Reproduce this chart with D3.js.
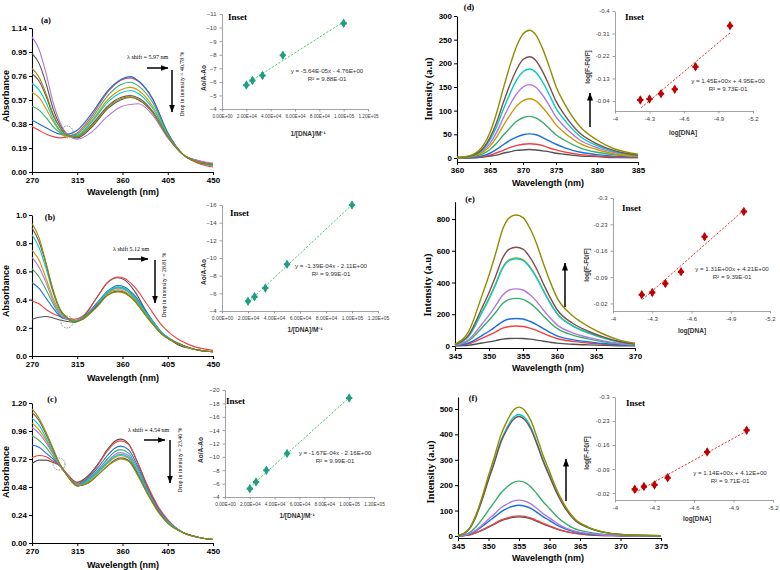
<!DOCTYPE html>
<html><head><meta charset="utf-8">
<script src="https://cdn.jsdelivr.net/npm/d3@7"></script>
<style>body{margin:0;background:#fff}svg{display:block}</style>
</head><body>
<svg id="c" width="780" height="570"></svg>
<script>
// ---------- DATA ----------
const COL = {gray:"#515151", red:"#F14040", blue:"#1A6FDF", green:"#37AD6B", violet:"#B177DE", orange:"#CC9900", cyan:"#00CBCC", brown:"#7D4E4E", olive:"#8E8E00"};
const ORDER = ["gray","red","blue","green","violet","orange","cyan","brown","olive"];
const absTicksX = [270, 315, 360, 405, 450];

// Panel (a) UV-Vis
const wlA = [270, 277, 284, 291, 298, 305, 315, 330, 345, 358, 368, 376, 390, 405, 420, 435, 450];
const absA = {
  red:   [0.36,0.33,0.30,0.28,0.27,0.28,0.31,0.45,0.63,0.725,0.745,0.715,0.575,0.31,0.14,0.07,0.04],
  blue:  [0.41,0.38,0.35,0.32,0.30,0.30,0.33,0.47,0.64,0.73,0.755,0.72,0.58,0.31,0.14,0.08,0.05],
  green: [0.52,0.49,0.43,0.36,0.31,0.28,0.30,0.43,0.60,0.69,0.71,0.68,0.55,0.30,0.14,0.08,0.05],
  orange:[0.63,0.59,0.50,0.40,0.32,0.28,0.29,0.41,0.57,0.65,0.67,0.645,0.52,0.29,0.14,0.08,0.05],
  cyan:  [0.70,0.65,0.55,0.42,0.33,0.29,0.29,0.40,0.55,0.625,0.645,0.62,0.505,0.29,0.14,0.08,0.05],
  brown: [0.78,0.72,0.60,0.45,0.35,0.29,0.28,0.38,0.52,0.59,0.605,0.585,0.48,0.28,0.14,0.08,0.06],
  olive: [0.82,0.75,0.62,0.46,0.35,0.29,0.28,0.37,0.51,0.58,0.595,0.575,0.47,0.28,0.14,0.08,0.06],
  gray:  [0.94,0.86,0.70,0.50,0.37,0.30,0.27,0.36,0.50,0.57,0.59,0.57,0.47,0.28,0.14,0.09,0.06],
  violet:[1.07,0.97,0.78,0.55,0.39,0.30,0.26,0.32,0.44,0.515,0.535,0.54,0.45,0.27,0.14,0.09,0.07]
};
const ticksA = [0, 0.19, 0.38, 0.57, 0.76, 0.95, 1.14];

// Panel (b)
const wlB = [270, 277, 284, 291, 298, 305, 312, 320, 335, 345, 355, 362, 372, 385, 400, 415, 430, 450];
const absB = {
  gray:  [0.26,0.275,0.28,0.27,0.255,0.245,0.24,0.27,0.42,0.52,0.555,0.54,0.46,0.30,0.16,0.08,0.05,0.03],
  red:   [0.39,0.37,0.33,0.30,0.28,0.27,0.26,0.28,0.42,0.52,0.56,0.55,0.49,0.36,0.21,0.12,0.07,0.04],
  blue:  [0.52,0.48,0.41,0.34,0.28,0.26,0.25,0.27,0.38,0.46,0.50,0.49,0.43,0.30,0.16,0.09,0.05,0.03],
  green: [0.62,0.56,0.47,0.37,0.29,0.26,0.25,0.27,0.37,0.45,0.49,0.48,0.42,0.29,0.16,0.09,0.05,0.03],
  violet:[0.70,0.63,0.52,0.39,0.30,0.26,0.25,0.26,0.37,0.44,0.48,0.47,0.41,0.28,0.16,0.09,0.05,0.03],
  orange:[0.75,0.68,0.55,0.41,0.31,0.27,0.25,0.26,0.36,0.44,0.47,0.46,0.40,0.28,0.15,0.09,0.05,0.03],
  cyan:  [0.86,0.77,0.62,0.45,0.32,0.27,0.25,0.26,0.37,0.45,0.485,0.475,0.41,0.29,0.16,0.09,0.05,0.03],
  brown: [0.91,0.81,0.65,0.46,0.33,0.27,0.24,0.26,0.36,0.43,0.46,0.45,0.39,0.27,0.15,0.09,0.05,0.03],
  olive: [0.94,0.84,0.66,0.47,0.33,0.27,0.24,0.26,0.35,0.43,0.455,0.445,0.39,0.27,0.15,0.09,0.05,0.03]
};
const ticksB = [0, 0.2, 0.4, 0.6, 0.8, 1.0];

// Panel (c)
const wlC = [270, 277, 284, 291, 298, 305, 315, 325, 335, 345, 352, 358, 366, 375, 385, 395, 405, 420, 435, 450];
const absC = {
  gray:  [0.68,0.71,0.71,0.69,0.66,0.59,0.52,0.57,0.67,0.80,0.87,0.89,0.85,0.69,0.48,0.31,0.19,0.09,0.05,0.03],
  red:   [0.73,0.75,0.74,0.70,0.66,0.59,0.51,0.56,0.66,0.79,0.855,0.875,0.845,0.69,0.49,0.32,0.20,0.09,0.05,0.03],
  blue:  [0.84,0.82,0.77,0.72,0.66,0.58,0.50,0.55,0.64,0.75,0.81,0.83,0.80,0.66,0.46,0.30,0.19,0.09,0.05,0.03],
  green: [0.92,0.88,0.82,0.74,0.66,0.58,0.50,0.54,0.62,0.72,0.78,0.80,0.77,0.64,0.45,0.29,0.18,0.09,0.05,0.03],
  violet:[0.99,0.94,0.86,0.76,0.66,0.58,0.50,0.53,0.61,0.70,0.755,0.775,0.75,0.62,0.44,0.29,0.18,0.09,0.05,0.03],
  orange:[1.03,0.97,0.88,0.77,0.67,0.58,0.49,0.52,0.60,0.68,0.73,0.75,0.725,0.60,0.43,0.28,0.18,0.09,0.05,0.03],
  cyan:  [1.07,1.01,0.90,0.78,0.67,0.58,0.49,0.53,0.60,0.69,0.74,0.76,0.735,0.61,0.43,0.28,0.18,0.09,0.05,0.03],
  brown: [1.12,1.05,0.93,0.80,0.67,0.58,0.49,0.51,0.58,0.66,0.71,0.73,0.71,0.59,0.42,0.28,0.17,0.09,0.05,0.03],
  olive: [1.15,1.07,0.95,0.81,0.67,0.58,0.49,0.51,0.58,0.66,0.70,0.72,0.70,0.58,0.42,0.27,0.17,0.09,0.05,0.03]
};
const ticksC = [0, 0.24, 0.48, 0.72, 0.96, 1.20];

// Panel (d) fluorescence
const wlD = [360, 362, 364, 365, 366, 367, 368, 369, 370, 371, 372, 373, 374, 375, 376, 378, 380, 382, 385];
const flD = {
  gray:  [0,0,2,4,6,10,13,16,17,18,17,15,13,10,8,4,3,1,1],
  red:   [0,1,3,6,11,16,22,26,29,30,29,26,21,17,13,7,4,2,1],
  blue:  [0,1,5,10,18,28,37,44,49,51,49,43,36,29,22,12,7,4,2],
  green: [0,2,9,18,31,48,63,77,85,88,84,75,62,49,38,21,12,7,3],
  orange:[0,3,13,25,44,68,90,109,121,125,120,106,89,70,54,30,18,9,4],
  violet:[1,3,16,31,54,84,112,135,150,155,149,132,110,87,67,37,22,12,5],
  cyan:  [1,4,19,38,66,102,135,164,182,188,180,160,133,105,81,45,26,14,6],
  brown: [1,4,21,43,75,116,154,186,208,214,205,182,152,120,92,51,30,16,6],
  olive: [1,5,27,54,95,146,194,235,262,270,259,230,192,151,116,65,38,20,8]
};
const ticksDx = [360, 365, 370, 375, 380, 385];
const ticksDy = [0, 50, 100, 150, 200, 250, 300];

// Panel (e)
const wlE = [345, 347, 349, 350, 351, 352, 353, 354, 355, 356, 357, 358, 359, 360, 362, 364, 366, 368, 370];
const flE = {
  gray:  [1,5,19,26,34,43,47,48,47,43,37,30,24,18,11,7,4,2,1],
  red:   [2,14,49,68,89,112,123,126,123,113,98,79,62,47,29,19,11,6,3],
  blue:  [3,19,67,93,123,154,170,173,170,156,135,109,85,64,40,26,16,8,3],
  green: [5,33,117,162,213,267,294,300,294,270,234,189,147,111,69,45,27,14,6],
  violet:[5,40,140,194,256,320,353,360,353,324,281,227,176,133,83,54,32,16,7],
  orange:[8,61,216,300,394,494,544,555,544,500,433,350,272,205,128,83,50,25,11],
  cyan:  [8,61,215,297,391,490,539,550,539,495,429,347,270,204,127,83,50,25,11],
  brown: [9,68,243,336,442,554,610,622,610,560,485,392,305,230,143,93,56,28,12],
  olive: [12,91,322,446,586,734,809,825,809,743,644,520,404,305,190,124,74,37,17]
};
const ticksEx = [345, 350, 355, 360, 365, 370];
const ticksEy = [0, 200, 400, 600, 800];

// Panel (f)
const wlF = [345, 346, 347, 348, 349, 350, 351, 352, 353, 354, 355, 356, 357, 358, 359, 360, 361, 362, 364, 366, 368, 370, 375];
const flF = {
  gray:  [0,2,5,13,23,35,47,59,67,73,75,73,67,57,47,38,29,21,11,5,2,1,0],
  red:   [0,2,6,13,24,37,49,62,70,77,79,77,70,60,49,40,30,22,11,6,2,1,0],
  blue:  [1,2,8,21,38,57,75,94,108,117,121,117,108,92,75,61,46,34,17,8,4,1,0],
  violet:[1,3,10,24,44,66,87,110,125,137,141,137,125,107,87,71,54,39,20,10,4,2,0],
  green: [1,4,15,37,67,102,134,168,192,210,216,210,192,164,134,108,82,60,30,15,6,3,0],
  brown: [2,9,33,80,146,221,291,367,418,456,470,456,418,357,291,235,179,132,66,33,14,6,1],
  cyan:  [2,10,33,81,148,225,296,373,425,464,478,464,425,363,296,239,182,134,67,33,14,6,1],
  olive: [3,10,35,86,157,238,314,395,451,492,507,492,451,385,314,254,193,142,71,35,15,6,1]
};
const ticksFx = [345, 350, 355, 360, 365, 370, 375];
const ticksFy = [0, 100, 200, 300, 400, 500];

// Insets (a)-(c): 1/[DNA] vs Ao/(A-Ao)
const invDNA = [2.0e4, 2.5e4, 3.33e4, 5.0e4, 1.0e5];
const insA = [-5.76, -6.10, -6.47, -7.96, -10.31];
const insB = [-5.1, -5.6, -6.6, -9.3, -16.0];
const insC = [-5.25, -6.25, -8.0, -10.5, -18.8];
const insTicksX = [0, 2e4, 4e4, 6e4, 8e4, 1e5, 1.2e5];
// Insets (d)-(f): log[DNA] vs log[(F-F0)/F]
const logDNA_de = [-4.22, -4.30, -4.40, -4.52, -4.70, -5.0];
const insD = [-0.044, -0.048, -0.069, -0.087, -0.177, -0.341];
const insE = [-0.043, -0.049, -0.073, -0.104, -0.197, -0.264];
const logDNA_f = [-4.15, -4.22, -4.30, -4.40, -4.70, -5.0];
const insF = [-0.031, -0.039, -0.044, -0.065, -0.140, -0.203];
const logTicksX = [-4, -4.3, -4.6, -4.9, -5.2];
const insTicksD = [-0.4, -0.31, -0.22, -0.13, -0.04];
const insTicksEF = [-0.3, -0.23, -0.16, -0.09, -0.02];

// ---------- DRAW ----------
const svg = d3.select("#c");
const SANS = "'Liberation Sans', Arial, sans-serif";
const SERIF = "'Liberation Serif', 'Times New Roman', serif";
const defs = svg.append("defs");
defs.append("marker").attr("id","ah").attr("viewBox","0 0 8 6").attr("refX",7.5).attr("refY",3)
  .attr("markerWidth",8).attr("markerHeight",6).attr("markerUnits","userSpaceOnUse").attr("orient","auto")
  .append("path").attr("d","M0,0L8,3L0,6Z").attr("fill","#000");

function mainStyle(g){
  g.selectAll("path.domain").attr("stroke","#000").attr("stroke-width",1.1);
  g.selectAll(".tick line").attr("stroke","#000").attr("stroke-width",1);
  g.selectAll("text").attr("font-family",SANS).attr("font-weight","bold").attr("font-size",8).attr("fill","#000");
}
function insetStyle(fs){
  return g=>{
    g.selectAll("path.domain").attr("stroke","#8a8a8a").attr("stroke-width",0.8);
    g.selectAll(".tick line").attr("stroke","#8a8a8a").attr("stroke-width",0.8);
    g.selectAll("text").attr("font-family",SANS).attr("font-size",fs).attr("fill","#404040");
  };
}
function text(x,y,s,o){
  o = o||{};
  const t = svg.append("text").attr("x",x).attr("y",y).text(s)
    .attr("font-family",o.family||SANS).attr("font-size",o.size||9)
    .attr("font-weight",o.weight||"normal").attr("fill",o.fill||"#000")
    .attr("text-anchor",o.anchor||"middle").attr("dominant-baseline","central");
  if(o.rot) t.attr("transform",`rotate(${o.rot},${x},${y})`);
  return t;
}
function arrow(x1,y1,x2,y2){
  svg.append("line").attr("x1",x1).attr("y1",y1).attr("x2",x2).attr("y2",y2)
    .attr("stroke","#000").attr("stroke-width",1.5).attr("marker-end","url(#ah)");
}

function spectra(p){
  const x = d3.scaleLinear().domain(p.xDom).range(p.xRan);
  const y = d3.scaleLinear().domain(p.yDom).range([p.yB, p.yT]);
  const g = svg.append("g");
  g.append("g").attr("transform",`translate(0,${p.yB})`)
    .call(d3.axisBottom(x).tickValues(p.xt).tickFormat(d3.format("d")).tickSize(3).tickSizeOuter(0).tickPadding(2)).call(mainStyle);
  g.append("g").attr("transform",`translate(${p.xRan[0]},0)`)
    .call(d3.axisLeft(y).tickValues(p.yt).tickFormat(p.yf).tickSize(3).tickSizeOuter(0).tickPadding(2)).call(mainStyle);
  const line = d3.line().x((d,i)=>x(p.wl[i])).y(d=>y(d)).curve(d3.curveMonotoneX);
  ORDER.forEach(k=>{
    if(p.data[k]) g.append("path").attr("d",line(p.data[k])).attr("fill","none")
      .attr("stroke",COL[k]).attr("stroke-width",p.sw);
  });
}

function regression(xs, ys){
  const mx = d3.mean(xs), my = d3.mean(ys);
  const sxy = d3.sum(xs,(v,i)=>(v-mx)*(ys[i]-my)), sxx = d3.sum(xs,v=>(v-mx)*(v-mx));
  const m = sxy/sxx; return {m, b: my - m*mx};
}
function sciFmt(d){
  if(d===0) return "0.00E+00";
  const e = Math.floor(Math.log10(d)); const m = d/Math.pow(10,e);
  return m.toFixed(2)+"E+"+String(e).padStart(2,"0");
}

function inset(p){
  const x = d3.scaleLinear().domain(p.xDom).range([p.x0,p.x1]);
  const y = d3.scaleLinear().domain(p.yDom).range([p.yT,p.yB]);
  const g = svg.append("g");
  g.append("g").attr("transform",`translate(0,${p.yB})`)
    .call(d3.axisBottom(x).tickValues(p.xt).tickFormat(p.xf).tickSize(2.5).tickSizeOuter(0).tickPadding(3)).call(insetStyle(p.xfs));
  g.append("g").attr("transform",`translate(${p.x0},0)`)
    .call(d3.axisLeft(y).tickValues(p.yt).tickFormat(p.yf).tickSize(2.5).tickSizeOuter(0).tickPadding(3)).call(insetStyle(6));
  const r = regression(p.xs, p.ys);
  const xa = d3.min(p.xs), xb = d3.max(p.xs);
  g.append("line").attr("x1",x(xa)).attr("y1",y(r.m*xa+r.b)).attr("x2",x(xb)).attr("y2",y(r.m*xb+r.b))
    .attr("stroke",p.lc).attr("stroke-width",1).attr("stroke-dasharray","2.2,1.6");
  p.xs.forEach((v,i)=>{
    g.append("path").attr("d",d3.symbol(d3.symbolDiamond).size(26)())
      .attr("transform",`translate(${x(v)},${y(p.ys[i])})`).attr("fill",p.mc);
    g.append("path").attr("d",d3.symbol(d3.symbolCross).size(22)())
      .attr("transform",`translate(${x(v)},${y(p.ys[i])})`).attr("fill",p.mc);
  });
  text(p.insetPos[0], p.insetPos[1], "Inset", {family:SERIF, weight:"bold", size:9, anchor:"start"});
  text(p.eqPos[0], p.eqPos[1], p.eq, {size:6.2, fill:"#333"});
  text(p.eqPos[0], p.eqPos[1]+8.5, p.r2, {size:6.2, fill:"#333"});
  text(p.xlab[0], p.xlab[1], p.xlabT, {size:6.5, weight:"bold", fill:"#333"});
  text(p.ylab[0], p.ylab[1], p.ylabT, {size:6.5, weight:"bold", fill:"#333", rot:-90});
}

// ---- main panels ----
spectra({xDom:[270,450], xRan:[32,213], yDom:[0,1.14], yB:172, yT:28, xt:absTicksX, yt:ticksA,
  yf:d3.format(".2f"), wl:wlA, data:absA, sw:1.1});
spectra({xDom:[270,450], xRan:[32,213], yDom:[0,1.0], yB:356, yT:215, xt:absTicksX, yt:ticksB,
  yf:d3.format(".1f"), wl:wlB, data:absB, sw:1.1});
spectra({xDom:[270,450], xRan:[32,213], yDom:[0,1.2], yB:543, yT:403, xt:absTicksX, yt:ticksC,
  yf:d3.format(".2f"), wl:wlC, data:absC, sw:1.1});
spectra({xDom:[360,375,385], xRan:[457,556,638], yDom:[-8.5,300], yB:162, yT:16, xt:ticksDx, yt:ticksDy,
  yf:d3.format("d"), wl:wlD, data:flD, sw:1.4});
spectra({xDom:[345,360,370], xRan:[455,557,635], yDom:[-12.6,909], yB:348, yT:201.7, xt:ticksEx, yt:ticksEy,
  yf:d3.format("d"), wl:wlE, data:flE, sw:1.4});
spectra({xDom:[345,365,375], xRan:[458,580,661], yDom:[-8,547], yB:538, yT:397, xt:ticksFx, yt:ticksFy,
  yf:d3.format("d"), wl:wlF, data:flF, sw:1.4});

// axis titles main
[96,291,472].forEach(yy=>text(6,yy,"Absorbance",{weight:"bold",size:9,rot:-90}));
[192,378,565].forEach(yy=>text(123,yy,"Wavelength (nm)",{weight:"bold",size:9}));
[183,368,558].forEach(yy=>text(548,yy,"Wavelength (nm)",{weight:"bold",size:9}));
[[428,89],[427,285],[430,472]].forEach(d=>text(d[0],d[1],"Intensity (a.u)",{family:SERIF,weight:"bold",size:10.5,rot:-90}));
[["(a)",46,20],["(b)",50,217],["(c)",52,399],["(d)",469,7],["(e)",470,199],["(f)",473,398]]
  .forEach(d=>text(d[1],d[2],d[0],{family:SERIF,weight:"bold",size:8.5}));

// annotations absorbance
text(127,57,"λ shift = 5.97 nm",{family:SERIF,size:6,anchor:"start"});
arrow(147,68,168,68); arrow(172,70,172,112);
text(182,84,"Drop in intensity = 40.78 %",{family:SERIF,size:5.8,rot:-90});
text(113,249,"λ shift    5.12 nm",{family:SERIF,size:6,anchor:"start"});
arrow(128,259,148,259); arrow(155,260,155,303);
text(164,285,"Drop in intensity = 28.81 %",{family:SERIF,size:5.8,rot:-90});
text(128,430,"λ shift = 4.54 nm",{family:SERIF,size:6,anchor:"start"});
arrow(144,440,165,440); arrow(170,440,170,483);
text(180,460,"Drop in intensity = 23.40 %",{family:SERIF,size:5.8,rot:-90});
[[67,132],[67,322],[59,464]].forEach(c=>svg.append("circle").attr("cx",c[0]).attr("cy",c[1]).attr("r",6)
  .attr("fill","none").attr("stroke","#777").attr("stroke-width",0.8).attr("stroke-dasharray","1.5,1.2"));
// arrows fluorescence
arrow(590,127,590,93); arrow(565,307,565,263); arrow(566,501,566,459);

// insets
const GM = "#1f9e82", GL = "#45cf6e", RM = "#c00000", RL = "#e8353a";
inset({xDom:[0,1.2e5], x0:222, x1:368, yDom:[-11,-4], yT:14, yB:109, xt:insTicksX, xf:sciFmt, xfs:4.7,
  yt:d3.range(-11,-3,1), yf:d3.format("d"), xs:invDNA, ys:insA, mc:GM, lc:GL,
  insetPos:[228,17], eqPos:[327,70], eq:"y = -5.64E-05x - 4.76E+00", r2:"R² = 9.88E-01",
  xlab:[308,133], xlabT:"1/[DNA]/M⁻¹", ylab:[203,78], ylabT:"Ao/A-Ao"});
inset({xDom:[0,1.2e5], x0:222, x1:378, yDom:[-16,-4], yT:205, yB:311, xt:insTicksX, xf:sciFmt, xfs:5,
  yt:d3.range(-16,-3,2), yf:d3.format("d"), xs:invDNA, ys:insB, mc:GM, lc:GL,
  insetPos:[230,213], eqPos:[331,265], eq:"y = -1.39E-04x - 2.11E+00", r2:"R² = 9.99E-01",
  xlab:[305,329], xlabT:"1/[DNA]/M⁻¹", ylab:[203,272], ylabT:"Ao/A-Ao"});
inset({xDom:[0,1.2e5], x0:225, x1:374, yDom:[-20,-4], yT:390, yB:497, xt:insTicksX, xf:sciFmt, xfs:4.8,
  yt:d3.range(-20,-3,2), yf:d3.format("d"), xs:invDNA, ys:insC, mc:GM, lc:GL,
  insetPos:[226,401], eqPos:[335,452], eq:"y = -1.67E-04x - 2.16E+00", r2:"R² = 9.99E-01",
  xlab:[297,515], xlabT:"1/[DNA]/M⁻¹", ylab:[200,450], ylabT:"Ao/A-Ao"});
const logFmt = d => String(+d.toFixed(2));
inset({xDom:[-4,-5.2], x0:615, x1:753, yDom:[-0.4,0], yT:11, yB:111, xt:logTicksX, xf:logFmt, xfs:6,
  yt:insTicksD, yf:logFmt, xs:logDNA_de, ys:insD, mc:RM, lc:RL,
  insetPos:[625,17], eqPos:[728,80], eq:"y = 1.45E+00x + 4.95E+00", r2:"R² = 9.73E-01",
  xlab:[683,132], xlabT:"log[DNA]", ylab:[587,67], ylabT:"log[F-F0/F]"});
inset({xDom:[-4,-5.2], x0:613, x1:770, yDom:[-0.3,0], yT:198, yB:311, xt:logTicksX, xf:logFmt, xfs:6,
  yt:insTicksEF, yf:logFmt, xs:logDNA_de, ys:insE, mc:RM, lc:RL,
  insetPos:[622,208], eqPos:[732,268], eq:"y = 1.31E+00x + 4.21E+00", r2:"R² = 9.39E-01",
  xlab:[692,330], xlabT:"log[DNA]", ylab:[586,265], ylabT:"log[F-F0/F]"});
inset({xDom:[-4,-5.2], x0:615, x1:773, yDom:[-0.3,0], yT:397, yB:500, xt:logTicksX, xf:logFmt, xfs:6,
  yt:insTicksEF, yf:logFmt, xs:logDNA_f, ys:insF, mc:RM, lc:RL,
  insetPos:[626,403], eqPos:[730,472], eq:"y = 1.14E+00x + 4.12E+00", r2:"R² = 9.71E-01",
  xlab:[697,518], xlabT:"log[DNA]", ylab:[586,453], ylabT:"log[F-F0/F]"});
</script></body></html>
